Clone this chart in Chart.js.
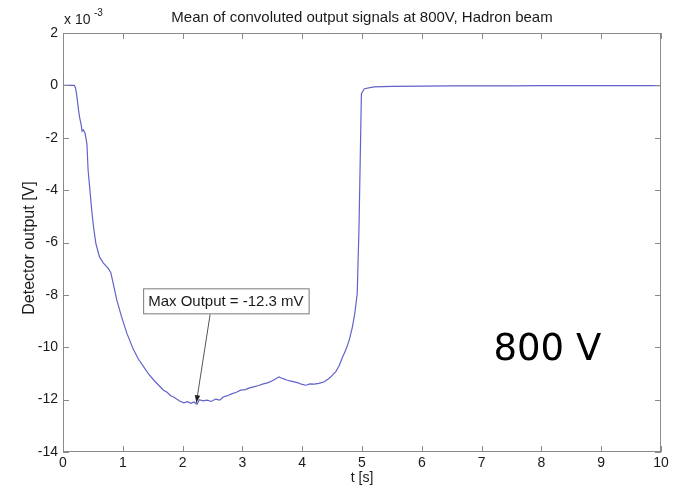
<!DOCTYPE html>
<html lang="en">
<head>
    <meta charset="UTF-8">
    <title>Mean of convoluted output signals at 800V</title>
    <script src="https://cdn.jsdelivr.net/npm/chart.js"></script>
    <style>
        html, body { margin: 0; padding: 0; background: #fff; }
        #wrap { width: 673px; height: 486px; }
    </style>
</head>
<body>
    <div id="wrap"><canvas id="chart" width="673" height="486"></canvas></div>

    <script>
        // time axis [s]
        const time = [
            0, 0.10, 0.19, 0.21, 0.23, 0.26, 0.28, 0.30, 0.32, 0.34, 0.37, 0.40, 0.42, 0.45, 0.48,
            0.51, 0.55, 0.61, 0.68, 0.76, 0.80, 0.84, 0.90, 0.98, 1.07, 1.18, 1.26, 1.35, 1.43,
            1.52, 1.60, 1.68, 1.74, 1.80, 1.85, 1.90, 1.95, 2.02, 2.08, 2.14, 2.19, 2.24, 2.28,
            2.34, 2.41, 2.48, 2.55, 2.62, 2.68, 2.75, 2.82, 2.90, 2.97, 3.05, 3.12, 3.19, 3.27,
            3.35, 3.42, 3.50, 3.56, 3.61, 3.68, 3.75, 3.83, 3.92, 4.00, 4.06, 4.13, 4.20, 4.28,
            4.37, 4.43, 4.48, 4.53, 4.56, 4.62, 4.67, 4.73, 4.79, 4.84, 4.88, 4.92, 4.95, 4.97,
            4.99, 5.04, 5.20, 5.50, 6.0, 6.5, 7.0, 7.5, 8.0, 8.5, 9.0, 9.5, 10.0
        ];
        // detector output, units of 1e-3 V
        const output = [
            0, 0, 0, -0.10, -0.38, -0.95, -1.25, -1.46, -1.75, -1.70, -1.84, -2.23, -3.24, -4.00, -4.77,
            -5.40, -6.04, -6.55, -6.80, -7.00, -7.15, -7.57, -8.20, -8.84, -9.48, -10.10, -10.45, -10.75, -11.02,
            -11.26, -11.45, -11.64, -11.72, -11.85, -11.90, -11.98, -12.05, -12.12, -12.08, -12.14, -12.09, -12.18, -12.00,
            -12.05, -12.02, -12.07, -11.98, -12.02, -11.90, -11.85, -11.78, -11.72, -11.64, -11.62, -11.55, -11.51, -11.46,
            -11.40, -11.36, -11.28, -11.20, -11.13, -11.20, -11.26, -11.30, -11.35, -11.42, -11.45, -11.40, -11.41, -11.38,
            -11.32, -11.22, -11.13, -11.00, -10.94, -10.70, -10.40, -10.10, -9.70, -9.22, -8.70, -7.95, -5.41, -2.86,
            -0.32, -0.13, -0.06, -0.04, -0.03, -0.02, -0.02, -0.02, -0.01, -0.01, -0.01, -0.01, -0.01
        ];
        const xTicks = [0, 1, 2, 3, 4, 5, 6, 7, 8, 9, 10];
        const yTicks = [2, 0, -2, -4, -6, -8, -10, -12, -14];

        const maxNote = { text: 'Max Output = -12.3 mV', tipX: 2.23, tipY: -12.12, boxX: 1.34, boxY: -7.75 };

        const axisColor = '#8a8a8a';
        const textColor = '#1a1a1a';
        const fontFam = '"Liberation Sans", Arial, sans-serif';

        const decor = {
            id: 'decor',
            afterDraw(c) {
                const ctx = c.ctx;
                const a = c.chartArea;
                const xs = c.scales.x, ys = c.scales.y;
                ctx.save();
                // box + inside ticks
                ctx.strokeStyle = axisColor;
                ctx.lineWidth = 1;
                ctx.strokeRect(a.left + 0.5, a.top + 0.5, a.right - a.left - 1, a.bottom - a.top - 1);
                ctx.beginPath();
                xTicks.forEach(v => {
                    const px = Math.round(xs.getPixelForValue(v)) + 0.5;
                    ctx.moveTo(px, a.bottom); ctx.lineTo(px, a.bottom - 6);
                    ctx.moveTo(px, a.top); ctx.lineTo(px, a.top + 6);
                });
                yTicks.forEach(v => {
                    const py = Math.round(ys.getPixelForValue(v)) + 0.5;
                    ctx.moveTo(a.left, py); ctx.lineTo(a.left + 6, py);
                    ctx.moveTo(a.right, py); ctx.lineTo(a.right - 6, py);
                });
                ctx.stroke();

                ctx.fillStyle = textColor;
                // title
                ctx.font = '15px ' + fontFam;
                ctx.textAlign = 'center';
                ctx.textBaseline = 'middle';
                ctx.fillText('Mean of convoluted output signals at 800V, Hadron beam', 362, 18);
                // exponent
                ctx.font = '14px ' + fontFam;
                ctx.textAlign = 'left';
                ctx.fillText('x 10', a.left + 1, 20);
                ctx.font = '10px ' + fontFam;
                ctx.fillText('-3', a.left + 31, 13);
                // axis titles
                ctx.font = '14px ' + fontFam;
                ctx.textAlign = 'center';
                ctx.fillText('t [s]', 362, 478);
                ctx.save();
                ctx.translate(30, 248);
                ctx.rotate(-Math.PI / 2);
                ctx.font = '16px ' + fontFam;
                ctx.fillText('Detector output [V]', 0, 0);
                ctx.restore();

                // annotation
                const tx = xs.getPixelForValue(maxNote.tipX), ty = ys.getPixelForValue(maxNote.tipY);
                const bx = xs.getPixelForValue(maxNote.boxX), by = ys.getPixelForValue(maxNote.boxY);
                ctx.font = '15px ' + fontFam;
                const w = ctx.measureText(maxNote.text).width + 10, h = 25;
                ctx.fillStyle = '#fff';
                ctx.fillRect(bx, by, w, h);
                ctx.strokeStyle = '#7a7a7a';
                ctx.strokeRect(bx + 0.5, by + 0.5, w, h);
                ctx.fillStyle = textColor;
                ctx.textAlign = 'left';
                ctx.fillText(maxNote.text, bx + 5, by + h / 2 + 1);
                const sx = bx + 67, sy = by + h + 1;
                ctx.strokeStyle = '#555';
                ctx.beginPath();
                ctx.moveTo(sx, sy); ctx.lineTo(tx, ty);
                ctx.stroke();
                const ang = Math.atan2(ty - sy, tx - sx);
                ctx.fillStyle = '#222';
                ctx.beginPath();
                ctx.moveTo(tx, ty);
                ctx.lineTo(tx - 8 * Math.cos(ang - 0.35), ty - 8 * Math.sin(ang - 0.35));
                ctx.lineTo(tx - 8 * Math.cos(ang + 0.35), ty - 8 * Math.sin(ang + 0.35));
                ctx.closePath();
                ctx.fill();

                // big label
                ctx.fillStyle = '#000';
                ctx.font = '37px "DejaVu Sans", Verdana, sans-serif';
                ctx.textAlign = 'center';
                ctx.fillText('800 V', xs.getPixelForValue(8.1), ys.getPixelForValue(-10.12));
                ctx.restore();
            }
        };

        new Chart(document.getElementById('chart'), {
            type: 'line',
            data: {
                datasets: [{
                    label: 'Mean output',
                    data: time.map((t, i) => ({ x: t, y: output[i] })),
                    borderColor: '#6262cc',
                    borderWidth: 1.2,
                    pointRadius: 0,
                    tension: 0,
                    fill: false
                }]
            },
            options: {
                responsive: false,
                animation: false,
                layout: { padding: { top: 33, right: 12, left: 0, bottom: 0 } },
                plugins: {
                    legend: { display: false },
                    tooltip: { enabled: false }
                },
                scales: {
                    x: {
                        type: 'linear',
                        min: 0,
                        max: 10,
                        afterFit: s => { s.height = 34; },
                        afterBuildTicks: s => { s.ticks = xTicks.map(v => ({ value: v })); },
                        grid: { display: false, drawTicks: false },
                        border: { display: false },
                        ticks: { color: textColor, font: { size: 14, family: fontFam }, padding: 3, maxRotation: 0 }
                    },
                    y: {
                        min: -14,
                        max: 2,
                        afterFit: s => { s.width = 63; },
                        afterBuildTicks: s => { s.ticks = yTicks.map(v => ({ value: v })); },
                        grid: { display: false, drawTicks: false },
                        border: { display: false },
                        ticks: { color: textColor, font: { size: 14, family: fontFam }, padding: 5 }
                    }
                }
            },
            plugins: [decor]
        });
    </script>
</body>
</html>
